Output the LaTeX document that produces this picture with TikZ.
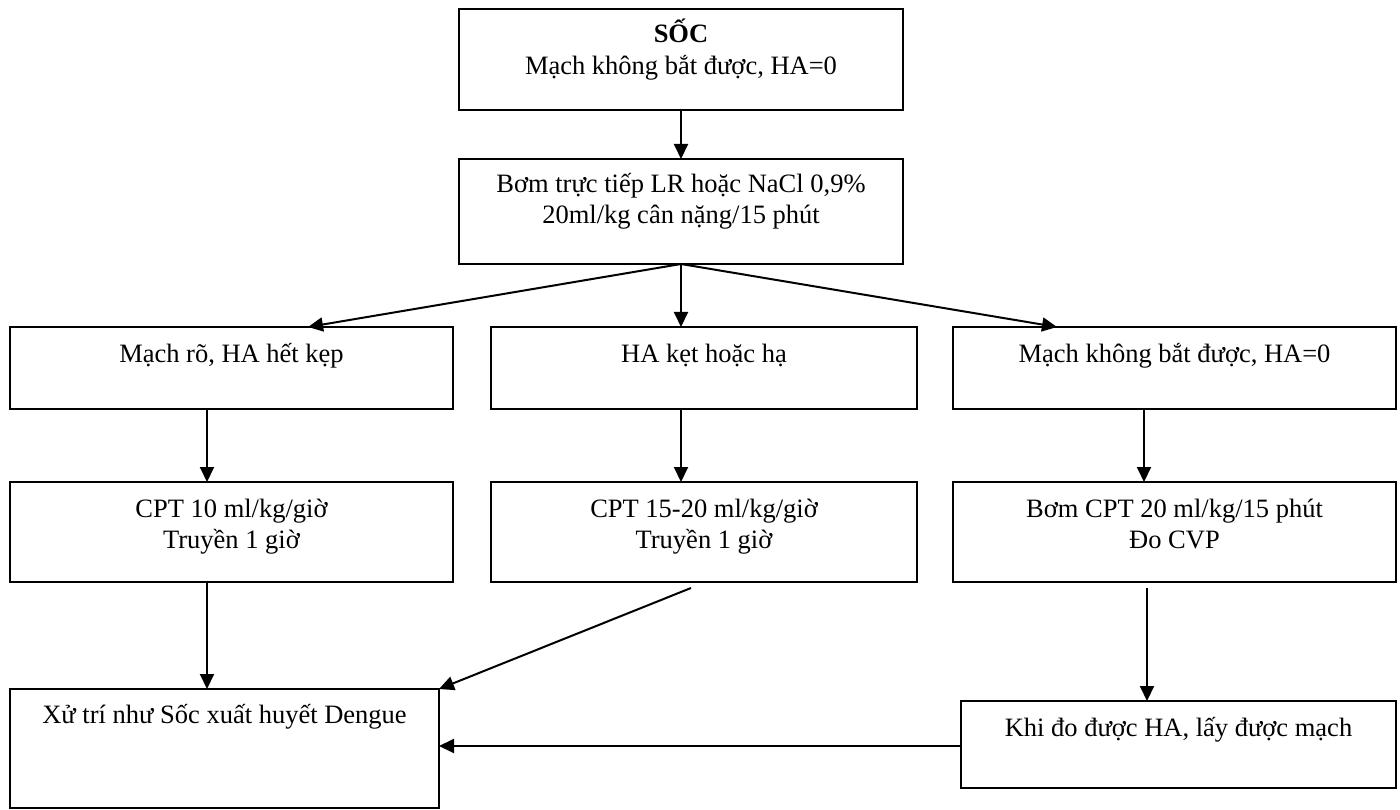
\documentclass[tikz,border=0pt]{standalone}
\usepackage{fontspec}
\setmainfont{Liberation Serif}
\usetikzlibrary{arrows.meta,calc}
\begin{document}
\begin{tikzpicture}[x=1pt,y=-1pt,
  box/.style={draw=black,line width=2pt,rectangle,inner sep=0pt,outer sep=0pt},
  txt/.style={anchor=base,inner sep=0pt,font=\fontsize{26.5}{31}\selectfont},
  arr/.style={line width=2pt,-{Triangle[length=15pt,width=14pt]}}
]
\useasboundingbox (0,0) rectangle (1400,810);
% boxes
\node[box,minimum width=444pt,minimum height=101pt] (s1) at (681,59.5) {};
\node[box,minimum width=444pt,minimum height=105pt] (s2) at (681,211.5) {};
\node[box,minimum width=443pt,minimum height=82pt] (a1) at (231.5,368) {};
\node[box,minimum width=426pt,minimum height=82pt] (b1) at (704,368) {};
\node[box,minimum width=443pt,minimum height=82pt] (c1) at (1174.5,368) {};
\node[box,minimum width=443pt,minimum height=100pt] (a2) at (231.5,532) {};
\node[box,minimum width=426pt,minimum height=100pt] (b2) at (704,532) {};
\node[box,minimum width=443pt,minimum height=100pt] (c2) at (1174.5,532) {};
\node[box,minimum width=429pt,minimum height=119pt] (d) at (224.5,748.5) {};
\node[box,minimum width=435pt,minimum height=87pt] (e) at (1178.5,744.5) {};
% texts
\node[txt] (t1a) at (681,43) {\textbf{SỐC}};
\node[txt] (t1b) at (681,75) {Mạch không bắt được, HA=0};
\node[txt] (t2a) at (681,193) {Bơm trực tiếp LR hoặc NaCl 0,9\%};
\node[txt] (t2b) at (681,224) {20ml/kg cân nặng/15 phút};
\node[txt] (ta1) at (231.5,362) {Mạch rõ, HA hết kẹp};
\node[txt] (tb1) at (704,362) {HA kẹt hoặc hạ};
\node[txt] (tc1) at (1174.5,362) {Mạch không bắt được, HA=0};
\node[txt] (ta2) at (231.5,517) {CPT 10 ml/kg/giờ};
\node[txt] (ta3) at (231.5,548) {Truyền 1 giờ};
\node[txt] (tb2) at (704,517) {CPT 15-20 ml/kg/giờ};
\node[txt] (tb3) at (704,548) {Truyền 1 giờ};
\node[txt] (tc2) at (1174.5,517) {Bơm CPT 20 ml/kg/15 phút};
\node[txt] (tc3) at (1174.5,548) {Đo CVP};
\node[txt] (td) at (224.5,723) {Xử trí như Sốc xuất huyết Dengue};
\node[txt] (te) at (1178.5,736) {Khi đo được HA, lấy được mạch};
% connectors
\coordinate (bs) at ([xshift=-13pt,yshift=-6pt]b2.south);
\coordinate (cs) at ([xshift=-27.5pt,yshift=-6pt]c2.south);
\draw[arr] (s1.south) -- (s2.north);
\draw[arr] (s2.south) -- ([xshift=76.5pt]a1.north);
\draw[arr] (s2.south) -- ([xshift=-23pt]b1.north);
\draw[arr] (s2.south) -- ([xshift=-117.5pt]c1.north);
\draw[arr] ([xshift=-24.5pt]a1.south) -- ([xshift=-24.5pt]a2.north);
\draw[arr] ([xshift=-23pt]b1.south) -- ([xshift=-23pt]b2.north);
\draw[arr] ([xshift=-30.5pt]c1.south) -- ([xshift=-30.5pt]c2.north);
\draw[arr] ([xshift=-24.5pt]a2.south) -- ([xshift=-17.5pt]d.north);
\draw[arr] (bs) -- (d.north east);
\draw[arr] (cs) -- ([xshift=-31.5pt]e.north);
\draw[arr] ([yshift=-1.5pt]e.west) -- ([yshift=-1.5pt]e.west -| d.east);
\end{tikzpicture}
\end{document}
